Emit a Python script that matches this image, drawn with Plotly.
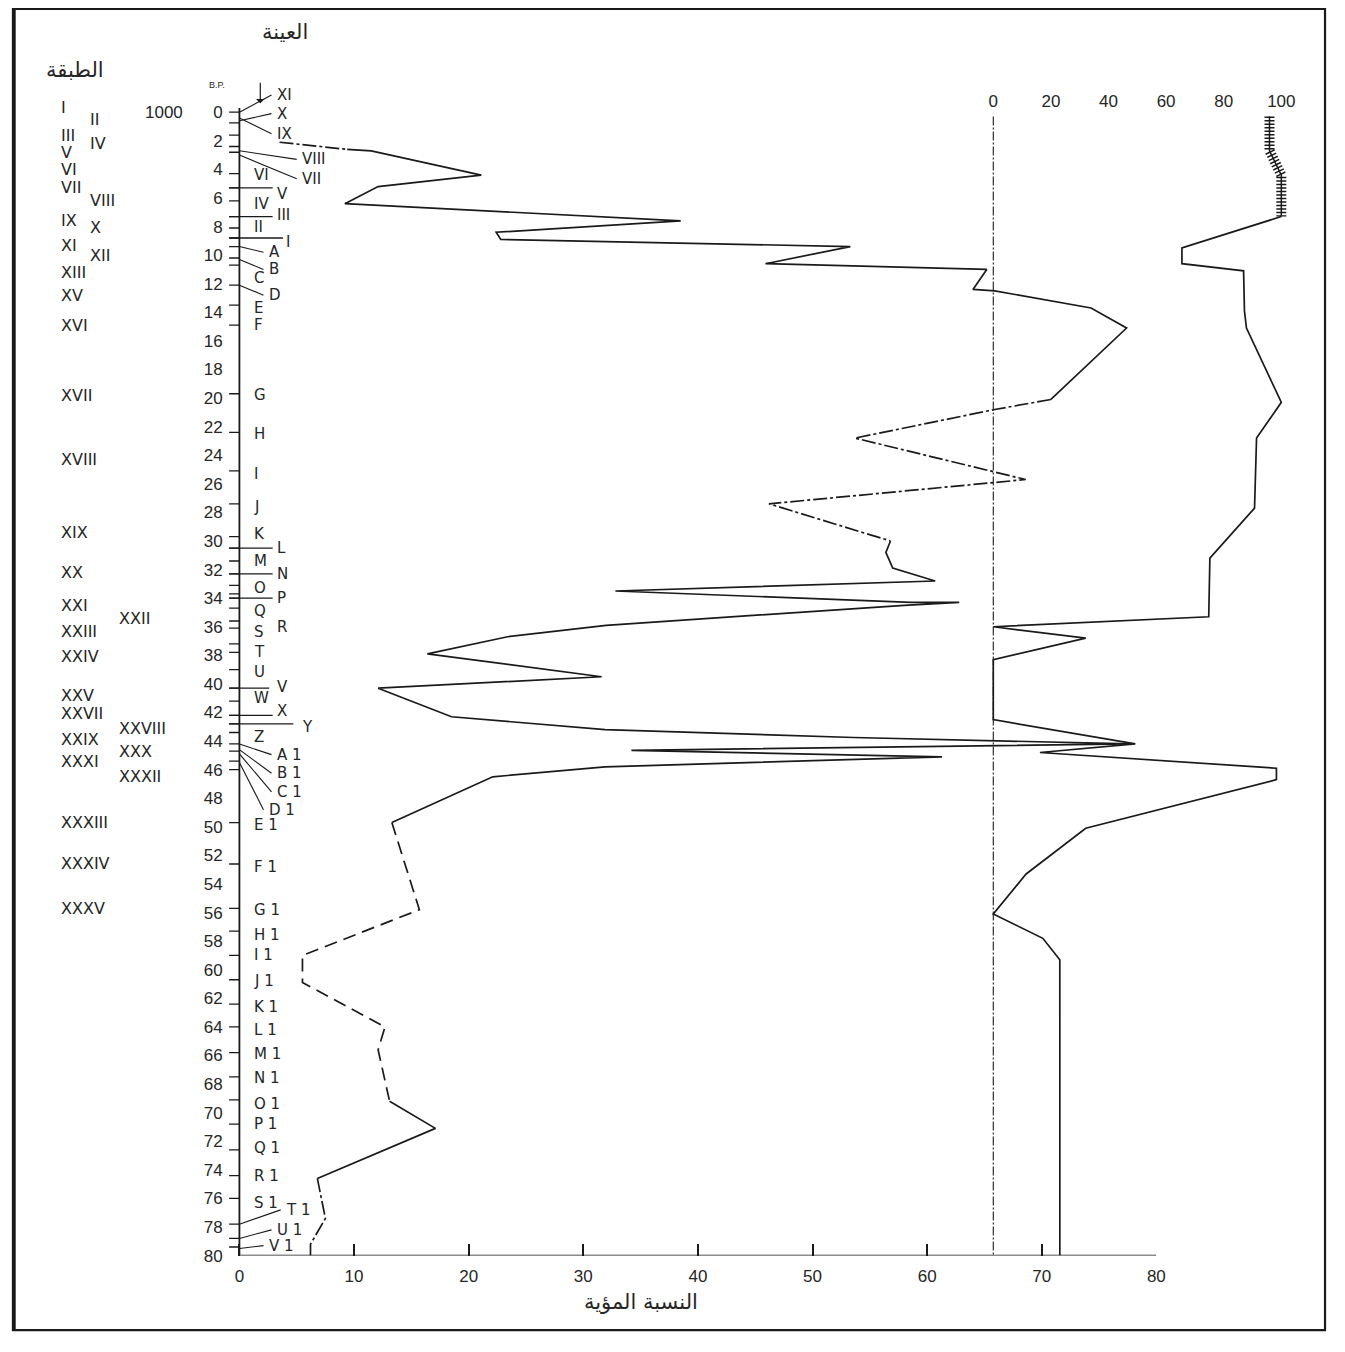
import plotly.graph_objects as go

# ------------------------------------------------------------------ data
depth_ticks = list(range(0, 81, 2))
pct_ticks = [0, 10, 20, 30, 40, 50, 60, 70, 80]
top_ticks = [0, 20, 40, 60, 80, 100]

# main curve (bottom axis, percent 0-80) : depth (x1000 yr B.P.) vs percent
left_depth = [2.1, 2.6, 2.7, 4.4, 5.2, 6.4, 7.6, 8.4, 8.9, 9.4, 10.6, 11.0, 12.4, 12.5,
              13.7, 15.1, 20.1, 20.8, 22.8, 25.7, 27.4, 30.0, 30.8, 31.9, 32.8, 33.5,
              34.3, 34.3, 34.5, 35.9, 36.7, 37.9, 39.5, 40.3, 42.3, 43.2, 43.75, 44.2,
              44.65, 45.1, 45.8, 46.5, 49.7, 55.8, 59.0, 60.9, 64.0, 65.6, 69.2, 71.1,
              74.6, 77.4, 79.2, 80.0]
left_pct = [3.5, 9.4, 11.5, 21.1, 12.1, 9.2, 38.5, 22.4, 22.8, 53.3, 45.9, 65.2, 64.0, 65.9,
            74.3, 77.4, 70.8, 65.9, 53.7, 68.6, 46.2, 56.8, 56.4, 57.0, 60.7, 32.8,
            58.6, 62.8, 58.0, 32.0, 23.4, 16.4, 31.6, 12.1, 18.5, 31.9, 53.6, 77.8,
            34.2, 61.3, 31.9, 22.1, 13.3, 15.7, 5.5, 5.5, 12.7, 12.1, 13.1, 17.1,
            6.8, 7.5, 6.2, 6.2]
# line style of each segment: s = solid, a = dash-dot, b = dashed
left_seg_style = "a" + "s" * 15 + "a" * 5 + "s" * 21 + "b" * 6 + "s" * 2 + "a" * 3

# second curve (top axis, percent 0-100)
right_hatch_depth = [0.3, 2.7, 4.4, 7.3]
right_hatch_pct = [95.9, 95.9, 100.0, 100.0]
right_depth = [7.3, 9.5, 10.6, 11.1, 13.9, 15.1, 20.3, 22.8, 27.7, 31.2, 35.3, 36.0,
               36.8, 38.3, 42.5, 44.2, 44.8, 45.9, 46.7, 50.1, 53.3, 56.1, 57.8, 59.3, 80.0]
right_pct = [100.0, 65.5, 65.5, 86.9, 87.2, 87.9, 100.0, 91.4, 90.7, 75.2, 74.8, 0.0,
             32.1, 0.0, 0.0, 49.3, 16.2, 98.3, 98.3, 32.1, 11.4, 0.0, 17.2, 23.1, 23.1]

# layers (الطبقة)
layer_labels = ["I", "II", "III", "IV", "V", "VI", "VII", "VIII", "IX", "X", "XI", "XII",
                "XIII", "XV", "XVI", "XVII", "XVIII", "XIX", "XX", "XXI", "XXII", "XXIII",
                "XXIV", "XXV", "XXVII", "XXVIII", "XXIX", "XXX", "XXXI", "XXXII",
                "XXXIII", "XXXIV", "XXXV"]
layer_depth = [-0.35, 0.5, 1.6, 2.2, 2.8, 4.0, 5.3, 6.2, 7.6, 8.1, 9.3, 10.0,
               11.2, 12.8, 14.9, 19.8, 24.3, 29.4, 32.2, 34.5, 35.4, 36.3,
               38.1, 40.8, 42.1, 43.1, 43.9, 44.7, 45.4, 46.5,
               49.7, 52.6, 55.7]
layer_col = [0, 1, 0, 1, 0, 0, 0, 1, 0, 1, 0, 1,
             0, 0, 0, 0, 0, 0, 0, 0, 2, 0,
             0, 0, 0, 2, 0, 2, 0, 2,
             0, 0, 0]

# samples (العينة)
sample_labels = ["XI", "X", "IX", "VIII", "VII", "VI", "V", "IV", "III", "II", "I",
                 "A", "B", "C", "D", "E", "F", "G", "H", "I", "J", "K", "L", "M", "N",
                 "O", "P", "Q", "R", "S", "T", "U", "V", "W", "X", "Y", "Z",
                 "A 1", "B 1", "C 1", "D 1", "E 1", "F 1", "G 1", "H 1", "I 1", "J 1",
                 "K 1", "L 1", "M 1", "N 1", "O 1", "P 1", "Q 1", "R 1", "S 1", "T 1",
                 "U 1", "V 1"]
sample_depth = [-1.2, 0.1, 1.5, 3.3, 4.65, 4.4, 5.7, 6.4, 7.2, 8.0, 9.1,
                9.8, 11.0, 11.6, 12.8, 13.7, 14.9, 19.8, 22.5, 25.3, 27.6, 29.5, 30.5, 31.4, 32.3,
                33.3, 34.0, 34.9, 36.0, 36.4, 37.8, 39.2, 40.2, 41.0, 41.9, 43.0, 43.7,
                44.95, 46.25, 47.55, 48.8, 49.9, 52.8, 55.8, 57.6, 59.0, 60.8,
                62.6, 64.2, 65.9, 67.6, 69.4, 70.8, 72.5, 74.4, 76.3, 76.8,
                78.2, 79.3]
sample_lane = [1, 1, 1, 2, 2, 0, 1, 0, 1, 0, 1.5,
               0.5, 0.5, 0, 0.5, 0, 0, 0, 0, 0, 0, 0, 1, 0, 1,
               0, 1, 0, 1, 0, 0, 0, 1, 0, 1, 2, 0,
               1, 1, 1, 0.5, 0, 0, 0, 0, 0, 0,
               0, 0, 0, 0, 0, 0, 0, 0, 0, 1.5,
               1, 0.5]
sample_leader_from = [0.0, 0.6, 0.4, 2.7, 3.0, None, None, None, None, None, None,
                      9.4, 10.3, None, 12.1, None, None, None, None, None, None, None, None, None, None,
                      None, None, None, None, None, None, None, None, None, None, None, None,
                      44.2, 44.6, 44.9, 45.5, None, None, None, None, None, None,
                      None, None, None, None, None, None, None, None, None, 77.8,
                      78.8, 79.5]

# sample boundaries on the depth axis
boundary_depth = [0, 0.75, 1.6, 2.4, 2.8, 4.3, 5.3, 6.2, 7.3, 8.1, 8.8, 9.4, 10.2, 10.7,
                  12.1, 13.5, 14.9, 19.7, 22.4, 25.1, 27.4, 29.7, 30.5, 31.4, 32.3, 33.1,
                  33.7, 34.0, 34.7, 35.6, 36.1, 37.2, 37.8, 39.0, 40.3, 41.2, 42.2, 42.8,
                  43.4, 44.2, 44.7, 45.4, 46.0, 49.7, 52.6, 55.7, 57.3, 59.0, 60.7, 62.4,
                  64.0, 65.8, 67.5, 69.1, 70.8, 72.6, 74.4, 76.0, 77.8, 78.8, 79.4]
long_bound_depth = [5.3, 7.3, 8.8, 30.5, 32.3, 34.0, 40.3, 42.2, 42.8]
long_bound_end = [2.9, 2.9, 3.8, 2.9, 2.9, 2.9, 2.6, 2.9, 4.7]

# ------------------------------------------------------------------ layout constants
PAGE_W, PAGE_H = 1345, 1352
OFF = 8                       # default body margin of the html page
W, H = PAGE_W - 2 * OFF, PAGE_H - 2 * OFF
INK = "#1a1a1a"
TXT = "#262626"
FONT = "Liberation Sans, DejaVu Sans, sans-serif"
ROMAN_FONT = "DejaVu Sans, Liberation Sans, sans-serif"
AR_FONT = "DejaVu Sans, Noto Sans, sans-serif"


def fx(p):
    return (p - OFF) / W


def fy(p):
    return 1 - (p - OFF) / H


X_ZERO_PX, X_UNIT_PX = 241.0, 11.54
Y_ZERO_PX, Y_UNIT_PX = 113.0, 14.4
X_MIN, X_MAX = -1.2, 80
Y_TOP = -1.6
T_ZERO_PX, T_UNIT_PX = 1000.0, 2.9
T_MIN, T_MAX = -2.5, 102.5

lane_x = {0: 1.1, 0.5: 2.4, 1: 3.1, 1.5: 3.9, 2: 5.3}
col_px = {0: 59, 1: 89, 2: 118}

fig = go.Figure()

# main curve, split into runs of equal line style
dash_of = {"s": "solid", "a": "14px,3px,3px,3px", "b": "13px,7px"}
assert len(left_seg_style) == len(left_depth) - 1
i = 0
n = len(left_seg_style)
while i < n:
    j = i
    while j + 1 < n and left_seg_style[j + 1] == left_seg_style[i]:
        j += 1
    fig.add_trace(go.Scatter(
        x=left_pct[i:j + 2], y=left_depth[i:j + 2], mode="lines",
        line=dict(color=INK, width=1.7, dash=dash_of[left_seg_style[i]]),
        xaxis="x", yaxis="y", showlegend=False, hoverinfo="skip"))
    i = j + 1

# second curve
fig.add_trace(go.Scatter(x=right_hatch_pct, y=right_hatch_depth, mode="lines",
                         line=dict(color=INK, width=10, dash="1.5px,2px"),
                         xaxis="x2", yaxis="y", showlegend=False, hoverinfo="skip"))
fig.add_trace(go.Scatter(x=right_hatch_pct, y=right_hatch_depth, mode="lines",
                         line=dict(color=INK, width=1.5),
                         xaxis="x2", yaxis="y", showlegend=False, hoverinfo="skip"))
fig.add_trace(go.Scatter(x=right_pct, y=right_depth, mode="lines",
                         line=dict(color=INK, width=1.7),
                         xaxis="x2", yaxis="y", showlegend=False, hoverinfo="skip"))

# sample boundary ticks
bx, by = [], []
for d in boundary_depth:
    bx += [-0.9, 0, None]
    by += [d, d, None]
for d, e in zip(long_bound_depth, long_bound_end):
    bx += [-0.9, e, None]
    by += [d, d, None]
fig.add_trace(go.Scatter(x=bx, y=by, mode="lines", line=dict(color=INK, width=1.3),
                         xaxis="x", yaxis="y", showlegend=False, hoverinfo="skip"))

# leader lines to sample labels
lx, ly = [], []
for lab, d, lane, f in zip(sample_labels, sample_depth, sample_lane, sample_leader_from):
    if f is None:
        continue
    lx += [0, lane_x[lane] - 0.3, None]
    ly += [f, d, None]
fig.add_trace(go.Scatter(x=lx, y=ly, mode="lines", line=dict(color=INK, width=1.1),
                         xaxis="x", yaxis="y", showlegend=False, hoverinfo="skip"))

shapes = [
    # depth axis line
    dict(type="line", xref="x", yref="y", x0=0, x1=0, y0=-0.3, y1=80,
         line=dict(color=INK, width=1.8)),
    # percent axis line
    dict(type="line", xref="x", yref="y", x0=0, x1=80, y0=80, y1=80,
         line=dict(color=INK, width=1.8)),
    # zero line of the upper scale
    dict(type="line", xref="x2", yref="y", x0=0, x1=0, y0=0.3, y1=80,
         line=dict(color=INK, width=1.1, dash="9px,2px,2px,2px")),
    # frame
    dict(type="rect", xref="paper", yref="paper", x0=fx(13), x1=fx(1334), y0=fy(1340), y1=fy(9),
         line=dict(color=INK, width=2.2)),
    dict(type="line", xref="paper", yref="paper", x0=fx(14), x1=fx(14), y0=fy(1340), y1=fy(9),
         line=dict(color=INK, width=3.5)),
]

ann = []
for lab, d, c in zip(layer_labels, layer_depth, layer_col):
    ann.append(dict(text=lab, x=fx(col_px[c]), xref="paper", y=d, yref="y",
                    xanchor="left", yanchor="middle", showarrow=False,
                    font=dict(family=ROMAN_FONT, size=16, color=TXT)))
for lab, d, lane in zip(sample_labels, sample_depth, sample_lane):
    ann.append(dict(text=lab, x=lane_x[lane], xref="x", y=d, yref="y",
                    xanchor="left", yanchor="middle", showarrow=False,
                    font=dict(family=ROMAN_FONT, size=15, color=TXT)))

ann += [
    dict(text="العينة", x=fx(287), y=fy(32), xref="paper", yref="paper",
         xanchor="center", yanchor="middle",
         showarrow=False, font=dict(family=AR_FONT, size=21, color=TXT)),
    dict(text="الطبقة", x=fx(75), y=fy(70), xref="paper", yref="paper",
         xanchor="center", yanchor="middle",
         showarrow=False, font=dict(family=AR_FONT, size=21, color=TXT)),
    dict(text="", x=fx(262), y=fy(104), ax=0, ay=-22, xref="paper", yref="paper",
         showarrow=True, arrowhead=1, arrowsize=1.2, arrowwidth=1.2, arrowcolor=INK),
    dict(text="B.P.", x=fx(218), y=fy(86), xref="paper", yref="paper",
         xanchor="center", yanchor="middle",
         showarrow=False, font=dict(family=FONT, size=9, color=TXT)),
    dict(text="1000", x=fx(165), y=0, xref="paper", yref="y",
         xanchor="center", yanchor="middle",
         showarrow=False, font=dict(family=FONT, size=17, color=TXT)),
    dict(text="النسبة المؤية", x=fx(645), y=fy(1312), xref="paper", yref="paper",
         xanchor="center", yanchor="middle",
         showarrow=False, font=dict(family=AR_FONT, size=21, color=TXT)),
]

x_dom = [fx(X_ZERO_PX + X_MIN * X_UNIT_PX), fx(X_ZERO_PX + X_MAX * X_UNIT_PX)]
y_dom = [fy(Y_ZERO_PX + 80 * Y_UNIT_PX), fy(Y_ZERO_PX + Y_TOP * Y_UNIT_PX)]
t_dom = [fx(T_ZERO_PX + T_MIN * T_UNIT_PX), fx(T_ZERO_PX + T_MAX * T_UNIT_PX)]

fig.update_layout(
    width=W, height=H, margin=dict(l=0, r=0, t=0, b=0),
    paper_bgcolor="white", plot_bgcolor="rgba(0,0,0,0)",
    showlegend=False,
    xaxis=dict(domain=x_dom, range=[X_MIN, X_MAX], tickvals=pct_ticks,
               ticks="inside", ticklen=12, tickwidth=1.5, tickcolor=INK,
               showline=False, showgrid=False, zeroline=False, anchor="y",
               ticklabelstandoff=8,
               tickfont=dict(family=FONT, size=17, color=TXT)),
    xaxis2=dict(domain=t_dom, range=[T_MIN, T_MAX], tickvals=top_ticks,
                side="top", anchor="free", position=fy(Y_ZERO_PX),
                ticks="", showline=False, showgrid=False, zeroline=False,
                ticklabelstandoff=2,
                tickfont=dict(family=FONT, size=17, color=TXT)),
    yaxis=dict(domain=y_dom, range=[80, Y_TOP], tickvals=depth_ticks,
               ticks="", showline=False, showgrid=False, zeroline=False,
               anchor="x", ticklabelstandoff=2,
               tickfont=dict(family=FONT, size=17, color=TXT)),
    shapes=shapes, annotations=ann,
)

fig.write_html("out.html")
